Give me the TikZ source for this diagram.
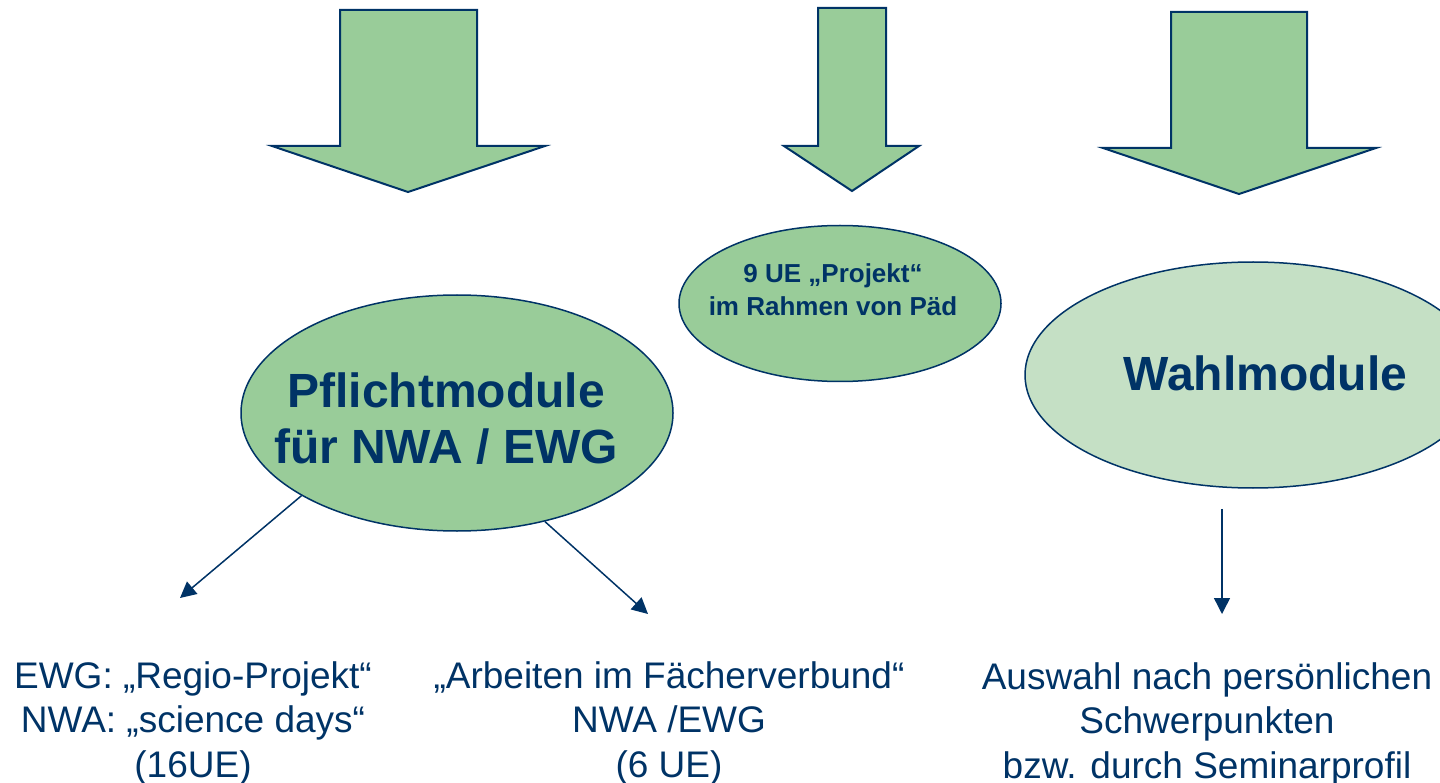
\documentclass[tikz,border=0pt]{standalone}
\usepackage{fontspec}
\setmainfont{Liberation Sans}
\usetikzlibrary{arrows.meta,shapes.geometric}
\definecolor{navy}{HTML}{003366}
\definecolor{modgreen}{HTML}{99CC99}
\definecolor{wahlgreen}{HTML}{C5E0C5}

\begin{document}
\begin{tikzpicture}[x=1pt,y=-1pt,
  blockarrow/.style={draw=navy,line width=2pt,fill=modgreen,line join=miter},
  module/.style={ellipse,draw=navy,line width=1.5pt,fill=modgreen,inner sep=0pt},
  modtext/.style={text=navy,align=center,anchor=base},
  subtext/.style={text=navy,font=\fontsize{37}{44.5}\selectfont,align=center,anchor=base},
  conn/.style={draw=navy,line width=1.5pt,-{Triangle[length=16pt,width=16pt]}}]

\useasboundingbox (0,0) rectangle (1440,783);
\clip (0,0) rectangle (1440,783);

\draw[blockarrow] (340,10) -- (477,10) -- (477,146) -- (545,146) -- (408,192) -- (272,146) -- (340,146) -- cycle;
\draw[blockarrow] (818,8) -- (886,8) -- (886,146) -- (919,146) -- (852,191) -- (784,146) -- (818,146) -- cycle;
\draw[blockarrow] (1171,12) -- (1307,12) -- (1307,148) -- (1376,148) -- (1239,194) -- (1103,148) -- (1171,148) -- cycle;

\node[module,minimum width=432pt,minimum height=236pt] (pflicht) at (457,413) {};
\node[module,minimum width=322pt,minimum height=156pt] (projekt) at (840,303.5) {};
\node[module,fill=wahlgreen,minimum width=456pt,minimum height=226pt] (wahl) at (1253,375) {};

\node[modtext,font=\fontsize{48}{56}\selectfont\bfseries] (pflichtlabel) at (446,463) {Pflichtmodule\\für NWA / EWG};
\node[modtext,font=\fontsize{26}{33}\selectfont\bfseries] (projektlabel) at (833,316) {9 UE „Projekt“\\im Rahmen von Päd};
\node[modtext,font=\fontsize{48}{56}\selectfont\bfseries] (wahllabel) at (1265.5,391) {Wahlmodule};

\node[subtext] (ewg) at (193,777) {EWG: „Regio-Projekt“\\NWA: „science days“\\(16UE)};
\node[subtext] (verbund) at (669,777) {„Arbeiten im Fächerverbund“\\NWA /EWG\\(6 UE)};
\node[subtext] (auswahl) at (1207,778) {Auswahl nach persönlichen\\Schwerpunkten\\bzw. durch Seminarprofil};

\coordinate (ewgtip) at (180,598);
\coordinate (verbundtip) at (648,614);
\coordinate (auswahltip) at (1222,614);
\draw[conn] (pflicht.208) -- (ewgtip);
\draw[conn] (pflicht.309) -- (verbundtip);
\draw[conn] ([shift={(-31,20)}]wahl.south) -- (auswahltip);
\end{tikzpicture}
\end{document}
